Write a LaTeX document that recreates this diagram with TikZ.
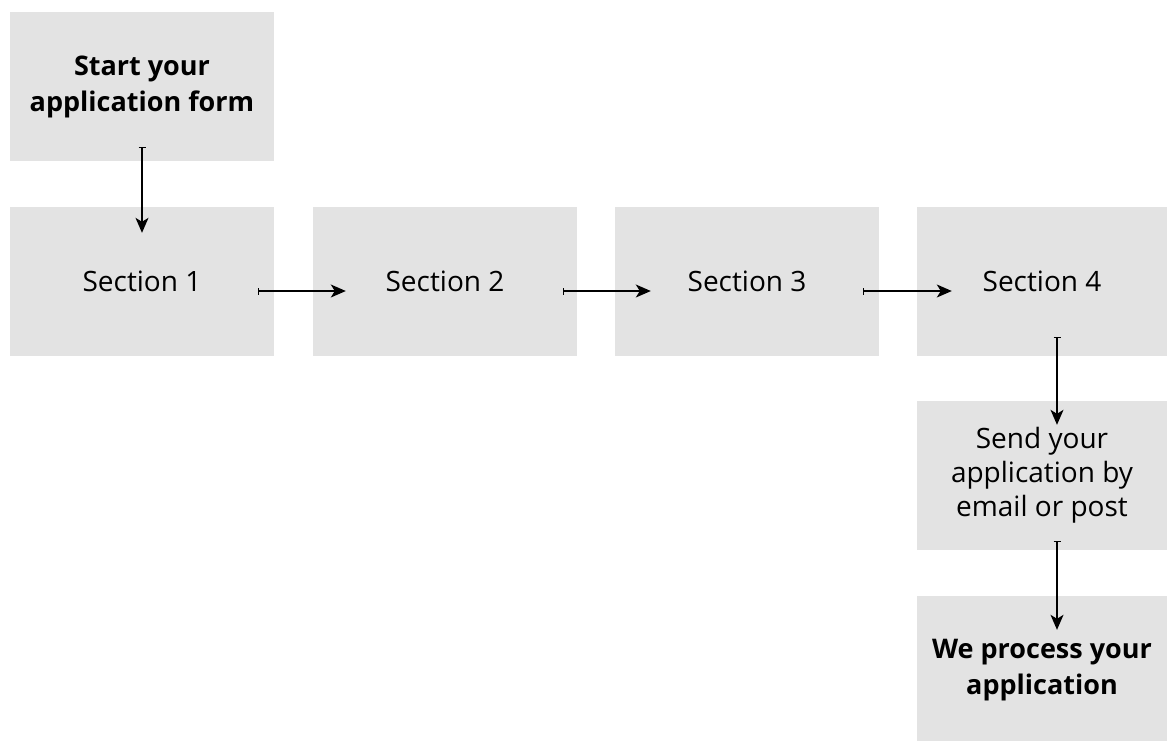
\documentclass[tikz,border=0pt]{standalone}
\usepackage{fontspec}
\setmainfont{Open Sans}
\usetikzlibrary{arrows.meta}
\definecolor{boxgrey}{HTML}{E3E3E3}
\begin{document}
\begin{tikzpicture}[x=1pt,y=-1pt,
  box/.style={fill=boxgrey, draw=none, inner sep=0pt, align=center,
    font=\fontsize{28}{34}\selectfont},
  boldbox/.style={box, font=\fontsize{27}{36}\selectfont\bfseries},
  arr/.style={line width=1.4pt, {Bar[width=7pt,line width=1.2pt]}-{Stealth[length=15pt,width=13pt,inset=4pt]}}]
\useasboundingbox (0,0) rectangle (1168,740);
\node[boldbox, minimum width=264pt, minimum height=149pt] (start) at (142,86.5) {Start your\\application form};
\node[box, minimum width=264pt, minimum height=149pt] (s1) at (142,281.5) {Section 1};
\node[box, minimum width=264pt, minimum height=149pt] (s2) at (445,281.5) {Section 2};
\node[box, minimum width=264pt, minimum height=149pt] (s3) at (747,281.5) {Section 3};
\node[box, minimum width=250pt, minimum height=149pt] (s4) at (1042,281.5) {Section 4};
\node[box, minimum width=250pt, minimum height=149pt] (send) at (1042,475.5) {Send your\\application by\\email or post};
\node[boldbox, minimum width=250pt, minimum height=148pt] (proc) at (1042,670) {We process your\\application};
\draw[arr, shorten <=-14pt, shorten >=-26pt] (start.south) -- (s1.north);
\draw[arr, shorten <=-16pt, shorten >=-33pt] ([yshift=-9.5pt]s1.east) -- ([yshift=-9.5pt]s2.west);
\draw[arr, shorten <=-14pt, shorten >=-36pt] ([yshift=-9.5pt]s2.east) -- ([yshift=-9.5pt]s3.west);
\draw[arr, shorten <=-16pt, shorten >=-35pt] ([yshift=-9.5pt]s3.east) -- ([yshift=-9.5pt]s4.west);
\draw[arr, shorten <=-19pt, shorten >=-24pt] ([xshift=15pt]s4.south) -- ([xshift=15pt]send.north);
\draw[arr, shorten <=-9pt, shorten >=-34pt] ([xshift=15pt]send.south) -- ([xshift=15pt]proc.north);
\end{tikzpicture}
\end{document}
